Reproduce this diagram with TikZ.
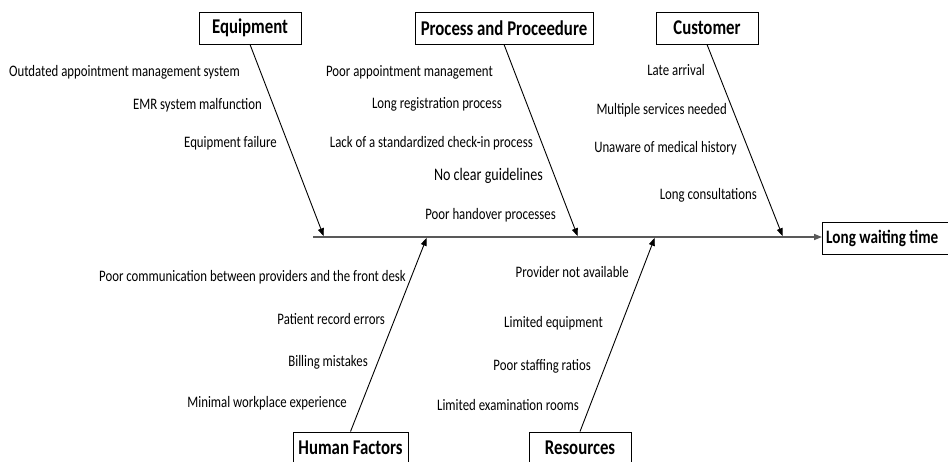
\documentclass[tikz,border=0pt]{standalone}
\usepackage{fontspec}
\setmainfont[FakeStretch=0.8]{Carlito}
\usetikzlibrary{arrows.meta}

\begin{document}
\begin{tikzpicture}[x=1pt, y=-1pt, >={Triangle[length=8pt,width=6pt]}]
      \tikzstyle{cause} = [draw=black, line width=0.9pt, fill=white, inner sep=0pt, minimum height=32pt,
         font=\bfseries\fontsize{21}{24}\selectfont]
      \tikzstyle{item} = [anchor=east, inner sep=0pt, font=\fontsize{16}{19}\selectfont]
      \tikzstyle{bone} = [draw=black, line width=0.9pt, ->, shorten >=0.8pt]
      \tikzstyle{spine} = [draw=black!65, line width=1.5pt, ->]
      \useasboundingbox (0,0) rectangle (948,461);
      \clip (0,0) rectangle (948,461);

      %category boxes
      \node[cause, minimum width=102pt] (equip) at (250,28)   {Equipment};
      \node[cause, minimum width=178pt] (proc)  at (504,28)   {Process and Proceedure};
      \node[cause, minimum width=102pt] (cust)  at (707,28)   {Customer};
      \node[cause, minimum width=115pt] (human) at (350.5,448) {Human Factors};
      \node[cause, minimum width=102pt] (res)   at (580,448)  {Resources};
      %effect box runs past the right edge
      \draw[line width=0.9pt] (960,222) -| (822,254) -- (960,254);
      \node[anchor=west, inner sep=0pt, font=\bfseries\fontsize{19}{22}\selectfont]
         (effect) at (826,238) {Long waiting time};
      \coordinate (head) at (822,237);

      %where the bones meet the spine
      \coordinate (tail)   at (313,237);
      \coordinate (equip') at (324,237);
      \coordinate (proc')  at (578,237);
      \coordinate (cust')  at (783,237);
      \coordinate (human') at (427,237);
      \coordinate (res')   at (655,237);

      %causes
      \node[item] (eq1) at (240,72)  {Outdated appointment management system};
      \node[item] (eq2) at (262,105) {EMR system malfunction};
      \node[item] (eq3) at (277,143) {Equipment failure};

      \node[item] (pr1) at (493,72)  {Poor appointment management};
      \node[item] (pr2) at (502,104) {Long registration process};
      \node[item] (pr3) at (533,143) {Lack of a standardized check-in process};
      \node[item, font=\fontsize{17.6}{20}\selectfont] (pr4) at (543,176) {No clear guidelines};
      \node[item] (pr5) at (556,215) {Poor handover processes};

      \node[item] (cu1) at (705,70)  {Late arrival};
      \node[item] (cu2) at (727,110) {Multiple services needed};
      \node[item] (cu3) at (737,148) {Unaware of medical history};
      \node[item] (cu4) at (757,195) {Long consultations};

      \node[item] (hf1) at (406,277) {Poor communication between providers and the front desk};
      \node[item] (hf2) at (385,319) {Patient record errors};
      \node[item] (hf3) at (368,362) {Billing mistakes};
      \node[item] (hf4) at (347,403) {Minimal workplace experience};

      \node[item] (rs1) at (629,272) {Provider not available};
      \node[item] (rs2) at (603,323) {Limited equipment};
      \node[item] (rs3) at (591,366) {Poor staffing ratios};
      \node[item] (rs4) at (579,405) {Limited examination rooms};

      %lines
      \draw[spine] (tail) -- (head);
      \draw[bone] (equip.south) -- (equip');
      \draw[bone] (proc.south)  -- (proc');
      \draw[bone] (cust.south)  -- (cust');
      \draw[bone] (human.north) -- (human');
      \draw[bone] (res.north)   -- (res');
\end{tikzpicture}
\end{document}
